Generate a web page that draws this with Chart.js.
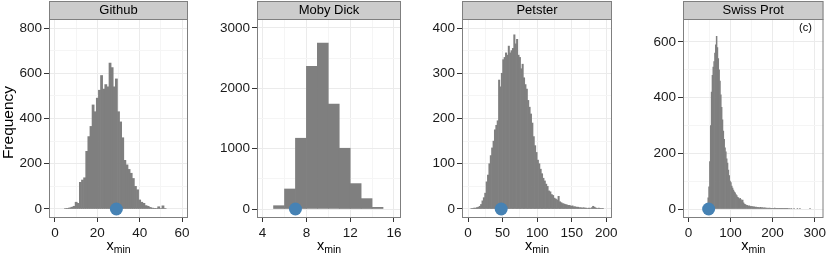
<!DOCTYPE html>
<html>
<head>
<meta charset="utf-8">
<script src="https://cdn.jsdelivr.net/npm/chart.js@4.4.1/dist/chart.umd.min.js"></script>
<style>
  body { margin: 0; background: #fff; }
  #wrap { position: relative; width: 830px; height: 254px; }
  #wrap canvas { position: absolute; left: 0; top: 0; }
</style>
</head>
<body>
<div id="wrap">
  <canvas id="c0" width="830" height="254"></canvas>
  <canvas id="c1" width="830" height="254"></canvas>
  <canvas id="c2" width="830" height="254"></canvas>
  <canvas id="c3" width="830" height="254"></canvas>
</div>
<script>
// Histogram data (bin centres and counts)
const githubBins = [5,6,7,8,9,10,11,12,13,14,15,16,17,18,19,20,21,22,23,24,25,26,27,28,29,30,31,32,33,34,35,36,37,38,39,40,41,42,43,44,45,46,47,48,49,50,51,52];
const githubCounts = [2,3,5,8,12,30,25,118,128,138,255,320,365,460,430,490,525,590,530,550,540,645,625,540,575,430,385,315,215,195,175,158,135,100,85,40,30,25,15,12,7,4,3,2,10,2,14,2];

const mobyBins = [5.5,6.5,7.5,8.5,9.5,10.5,11.5,12.5,13.5,14.5];
const mobyCounts = [55,332,1173,2363,2751,1738,1007,421,172,28];

const petsterBins = [5,7,9,11,13,15,17,19,21,23,25,27,29,31,33,35,37,39,41,43,45,47,49,51,53,55,57,59,61,63,65,67,69,71,73,75,77,79,81,83,85,87,89,91,93,95,97,99,101,103,105,107,109,111,113,115,117,119,121,123,125,127,129,131,133,135,137,139,141,143,145,147,149,151,153,155,157,159,161,163,165,167,169,171,173,175,177,179,181,183,185,187,189,191,193,195];
const petsterCounts = [1,1,2,2,3,4,6,10,18,25,35,60,75,100,118,135,150,175,185,195,285,270,300,330,335,345,340,360,345,350,355,385,365,375,340,335,310,320,290,275,265,240,225,210,190,160,140,125,108,100,88,78,68,62,55,50,40,38,32,30,24,22,20,28,16,14,12,11,10,9,8,8,6,7,5,5,4,4,3,3,2,3,2,2,1,2,1,3,6,4,2,1,2,1,1,1];

const swissBins = [43,45,47,49,51,53,55,57,59,61,63,65,67,69,71,73,75,77,79,81,83,85,87,89,91,93,95,97,99,101,103,105,107,109,111,113,115,117,119,121,123,125,127,129,131,133,135,137,139,141,143,145,147,149,151,153,155,157,159,161,163,165,167,169,171,173,175,177,179,181,183,185,187,189,191,193,195,197,199,201,203,205,207,209,211,213,215,217,219,221,223,225,227,229,231,233,235,237,241,245,251,259,265,289];
const swissCounts = [2,10,40,80,170,300,420,480,510,530,560,590,620,580,540,500,460,410,365,320,280,250,220,205,180,165,140,120,100,95,82,75,68,62,58,52,48,42,40,36,38,34,30,32,22,18,16,14,13,12,10,11,9,10,8,9,7,8,6,7,5,6,5,4,6,4,5,4,3,4,3,3,2,3,2,3,2,1,2,2,1,3,1,2,2,1,2,1,1,2,1,1,2,1,1,2,1,1,1,1,1,1,1,2];

// estimated x_min of each data set (blue dot)
const githubXmin = 29;
const mobyXmin = 7;
const petsterXmin = 48;
const swissXmin = 48;

// tick values
const githubXTicks = [0, 20, 40, 60];
const githubXMinor = [10, 30, 50];
const githubYTicks = [0, 200, 400, 600, 800];
const githubYMinor = [100, 300, 500, 700];
const mobyXTicks = [4, 8, 12, 16];
const mobyXMinor = [6, 10, 14];
const mobyYTicks = [0, 1000, 2000, 3000];
const mobyYMinor = [500, 1500, 2500];
const petsterXTicks = [0, 50, 100, 150, 200];
const petsterXMinor = [25, 75, 125, 175];
const petsterYTicks = [0, 100, 200, 300, 400];
const petsterYMinor = [50, 150, 250, 350];
const swissXTicks = [0, 100, 200, 300];
const swissXMinor = [50, 150, 250];
const swissYTicks = [0, 200, 400, 600];
const swissYMinor = [100, 300, 500];

const panels = [
  { title: 'Github', bins: githubBins, counts: githubCounts, xmin: githubXmin,
    xTicks: githubXTicks, xMinor: githubXMinor, yTicks: githubYTicks, yMinor: githubYMinor,
    xRange: [-2.83, 62.83], yRange: [-39.8, 839.8], left: 49, right: 188, yLabel: 'Frequency' },
  { title: 'Moby Dick', bins: mobyBins, counts: mobyCounts, xmin: mobyXmin,
    xTicks: mobyXTicks, xMinor: mobyXMinor, yTicks: mobyYTicks, yMinor: mobyYMinor,
    xRange: [3.49, 16.64], yRange: [-149, 3149], left: 257, right: 401 },
  { title: 'Petster', bins: petsterBins, counts: petsterCounts, xmin: petsterXmin,
    xTicks: petsterXTicks, xMinor: petsterXMinor, yTicks: petsterYTicks, yMinor: petsterYMinor,
    xRange: [-8.7, 208.2], yRange: [-19.9, 419.9], left: 462, right: 612 },
  { title: 'Swiss Prot', bins: swissBins, counts: swissCounts, xmin: swissXmin,
    xTicks: swissXTicks, xMinor: swissXMinor, yTicks: swissYTicks, yMinor: swissYMinor,
    xRange: [-12.9, 321], yRange: [-32.3, 682.6], left: 683, right: 828, tag: '(c)' }
];

Chart.defaults.font.family = '"Liberation Sans", Arial, sans-serif';

const FONT = '"Liberation Sans", Arial, sans-serif';
const STRIP_TOP = 1;
const PLOT_TOP = 19;
const PLOT_BOTTOM = 218;
const Y_AXIS_W = 46;

// strip, panel border and axis titles
const panelDecor = {
  id: 'panelDecor',
  afterDatasetsDraw(chart, args, opts) {
    const { ctx, chartArea: a } = chart;
    ctx.save();
    ctx.strokeStyle = '#7f7f7f';
    ctx.lineWidth = 1;
    ctx.strokeRect(a.left + 0.5, a.top + 0.5, a.right - a.left - 1, a.bottom - a.top - 1);

    ctx.fillStyle = '#cccccc';
    ctx.fillRect(a.left, STRIP_TOP, a.right - a.left, a.top - STRIP_TOP);
    ctx.strokeRect(a.left + 0.5, STRIP_TOP + 0.5, a.right - a.left - 1, a.top - STRIP_TOP);

    ctx.fillStyle = '#000';
    ctx.textAlign = 'center';
    ctx.textBaseline = 'middle';
    ctx.font = '13px ' + FONT;
    ctx.fillText(opts.title, (a.left + a.right) / 2, 10.5);

    if (opts.tag) {
      ctx.font = '11px ' + FONT;
      ctx.fillText(opts.tag, a.right - 18, 28);
    }

    // x_min title
    const cx = (a.left + a.right) / 2;
    ctx.textAlign = 'left';
    ctx.textBaseline = 'alphabetic';
    ctx.font = '14.5px ' + FONT;
    const wx = ctx.measureText('x').width;
    ctx.font = '10.5px ' + FONT;
    const wm = ctx.measureText('min').width;
    const x0 = cx - (wx + wm) / 2;
    ctx.font = '14.5px ' + FONT;
    ctx.fillText('x', x0, 250);
    ctx.font = '10.5px ' + FONT;
    ctx.fillText('min', x0 + wx, 253);

    if (opts.yLabel) {
      ctx.translate(13, (a.top + a.bottom) / 2 + 4);
      ctx.rotate(-Math.PI / 2);
      ctx.textAlign = 'center';
      ctx.font = '15.5px ' + FONT;
      ctx.fillText(opts.yLabel, 0, 0);
    }
    ctx.restore();
  }
};

function tickScale(range, majors, minors, isX) {
  const all = majors.concat(minors).sort((a, b) => a - b);
  return {
    type: 'linear',
    min: range[0],
    max: range[1],
    offset: false,
    border: { display: false },
    afterBuildTicks: (scale) => { scale.ticks = all.map(v => ({ value: v })); },
    afterFit: (scale) => {
      if (isX) {
        scale.height = 254 - PLOT_BOTTOM;
        scale.paddingLeft = 0;
        scale.paddingRight = 0;
      } else {
        scale.width = Y_AXIS_W;
        scale.paddingTop = 0;
        scale.paddingBottom = 0;
      }
    },
    grid: {
      offset: false,
      drawTicks: true,
      tickLength: isX ? 4 : 5,
      lineWidth: 1,
      color: (c) => majors.includes(c.tick.value) ? '#ebebeb' : '#f5f5f5',
      tickColor: (c) => majors.includes(c.tick.value) ? '#333333' : 'rgba(0,0,0,0)'
    },
    ticks: {
      autoSkip: false,
      maxRotation: 0,
      padding: isX ? 3 : 2,
      color: '#1a1a1a',
      font: { size: 13.5 },
      callback: (v) => majors.includes(v) ? String(v) : ''
    }
  };
}

panels.forEach((p, i) => {
  const ctx = document.getElementById('c' + i).getContext('2d');
  new Chart(ctx, {
    type: 'bar',
    data: {
      datasets: [
        {
          type: 'scatter',
          data: [{ x: p.xmin, y: 0 }],
          backgroundColor: '#4682b4',
          borderWidth: 0,
          pointRadius: 6.5,
          order: 0
        },
        {
          type: 'bar',
          data: p.bins.map((b, k) => ({ x: b, y: p.counts[k] })),
          backgroundColor: '#7f7f7f',
          borderWidth: 0,
          barPercentage: 1,
          categoryPercentage: 1,
          order: 1
        }
      ]
    },
    options: {
      responsive: false,
      animation: false,
      layout: {
        padding: { top: PLOT_TOP, left: p.left - Y_AXIS_W, right: 830 - p.right, bottom: 0 }
      },
      scales: {
        x: tickScale(p.xRange, p.xTicks, p.xMinor, true),
        y: tickScale(p.yRange, p.yTicks, p.yMinor, false)
      },
      plugins: {
        legend: { display: false },
        tooltip: { enabled: false },
        panelDecor: { title: p.title, tag: p.tag, yLabel: p.yLabel }
      }
    },
    plugins: [panelDecor]
  });
});
</script>
</body>
</html>
